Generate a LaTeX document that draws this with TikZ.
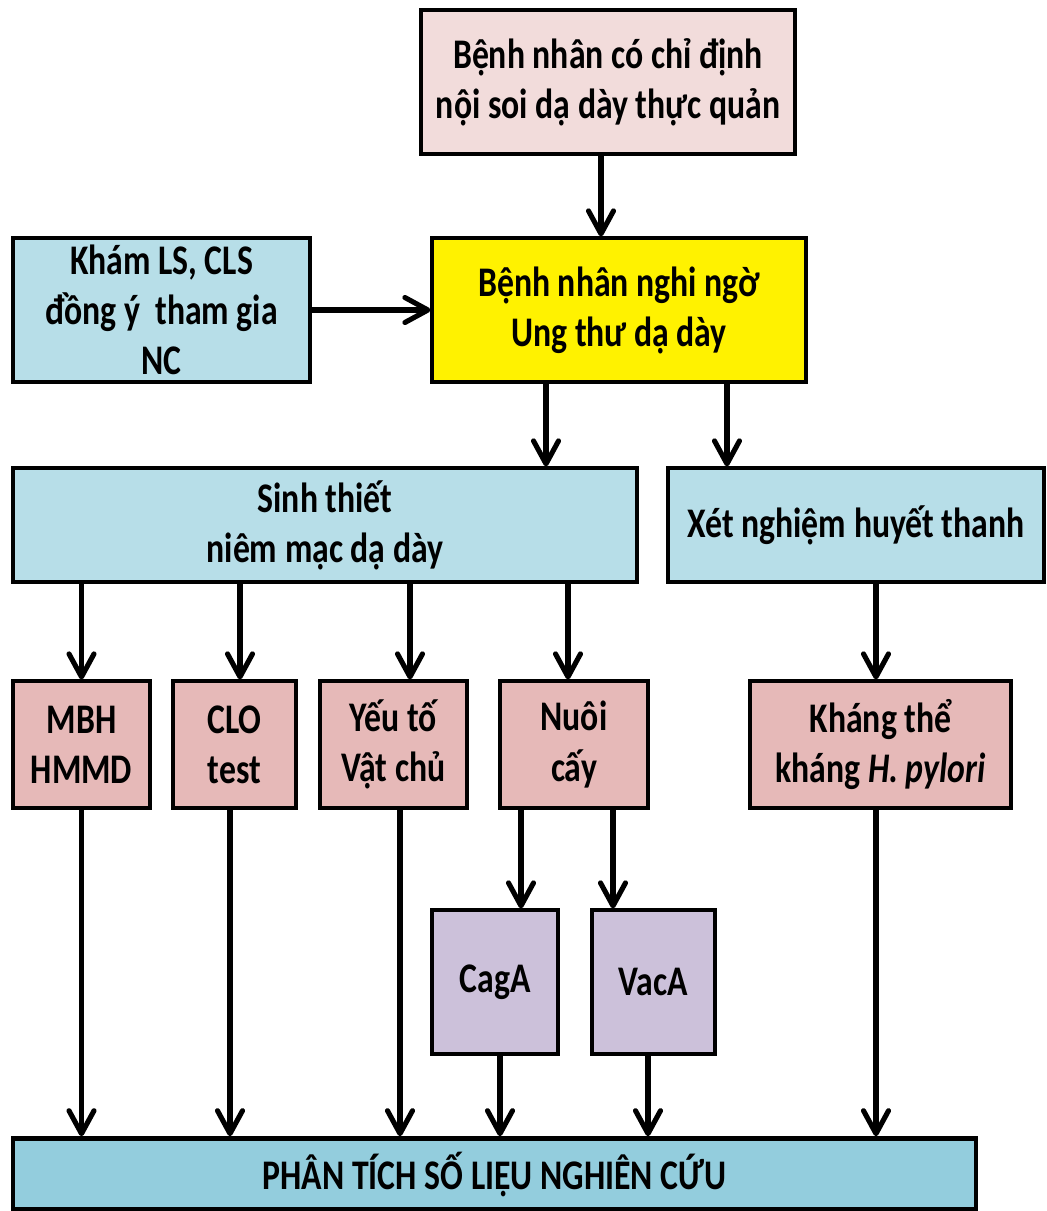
\documentclass[tikz,border=0pt]{standalone}
\usepackage{fontspec}
\setmainfont{Carlito}[FakeStretch=0.8]
\usetikzlibrary{arrows.meta}
\definecolor{hongnhat}{HTML}{F2DCDB}
\definecolor{xanhnhat}{HTML}{B7DEE8}
\definecolor{hong}{HTML}{E6B9B8}
\definecolor{tim}{HTML}{CCC1DA}
\definecolor{xanh}{HTML}{93CDDD}
\tikzset{
	hop/.style={draw, line width=1.8pt, align=center, inner sep=0pt,
		font=\fontsize{24}{28.5}\selectfont\bfseries},
	muiten/.style={line width=2.9pt, -{Straight Barb[width=0.5cm,length=0.46cm,round]}}
}
\begin{document}
\begin{tikzpicture}[x=0.02cm,y=-0.02cm]
	\useasboundingbox (0,0) rectangle (1046,1211);

	\node[hop, fill=hongnhat, minimum width=7.48cm, minimum height=2.88cm] (chidinh) at (608,82) {Bệnh nhân có chỉ định\\nội soi dạ dày thực quản};
	\node[hop, fill=xanhnhat, minimum width=5.94cm, minimum height=2.88cm] (kham) at (161.5,310) {Khám LS, CLS\\đồng ý~~tham gia\\NC};
	\node[hop, fill=yellow, minimum width=7.48cm, minimum height=2.88cm] (nghingo) at (619,310) {Bệnh nhân nghi ngờ\\Ung thư dạ dày};

	\node[hop, fill=xanhnhat, minimum width=12.48cm, minimum height=2.28cm] (sinhthiet) at (325,525) {Sinh thiết\\niêm mạc dạ dày};
	\node[hop, fill=xanhnhat, minimum width=7.52cm, minimum height=2.28cm] (xetnghiem) at (856,525) {Xét nghiệm huyết thanh};

	\node[hop, fill=hong, minimum width=2.74cm, minimum height=2.54cm] (mbh) at (81.5,744.5) {MBH\\HMMD};
	\node[hop, fill=hong, minimum width=2.46cm, minimum height=2.54cm] (clo) at (234.5,744.5) {CLO\\test};
	\node[hop, fill=hong, minimum width=2.94cm, minimum height=2.54cm] (yeuto) at (393.5,744.5) {Yếu tố\\Vật chủ};
	\node[hop, fill=hong, minimum width=2.96cm, minimum height=2.54cm] (nuoicay) at (574,744.5) {Nuôi\\cấy};
	\node[hop, fill=hong, minimum width=5.22cm, minimum height=2.54cm] (khangthe) at (880.5,744.5) {Kháng thể\\kháng \textit{H. pylori}};

	\node[hop, fill=tim, minimum width=2.52cm, minimum height=2.88cm] (caga) at (495,982) {CagA};
	\node[hop, fill=tim, minimum width=2.46cm, minimum height=2.88cm] (vaca) at (653.5,982) {VacA};

	\node[hop, fill=xanh, line width=2.6pt, minimum width=19.26cm, minimum height=1.42cm] (phantich) at (494.5,1174) {PHÂN TÍCH SỐ LIỆU NGHIÊN CỨU};

	% luong chinh
	\draw[muiten] ([xshift=-0.14cm]chidinh.south) -- ([xshift=-0.14cm]chidinh.south |- nghingo.north);
	\draw[muiten] (kham.east) -- (nghingo.west);
	\draw[muiten] ([xshift=-1.46cm]nghingo.south) -- ([xshift=-1.46cm]nghingo.south |- sinhthiet.north);
	\draw[muiten] ([xshift=2.16cm]nghingo.south) -- ([xshift=2.16cm]nghingo.south |- xetnghiem.north);

	% sinh thiet
	\draw[muiten] (sinhthiet.south -| mbh) -- (mbh.north);
	\draw[muiten] ([xshift=0.11cm]sinhthiet.south -| clo) -- ([xshift=0.11cm]clo.north);
	\draw[muiten] ([xshift=0.33cm]sinhthiet.south -| yeuto) -- ([xshift=0.33cm]yeuto.north);
	\draw[muiten] ([xshift=-0.12cm]sinhthiet.south -| nuoicay) -- ([xshift=-0.12cm]nuoicay.north);
	\draw[muiten] ([xshift=0.4cm]xetnghiem.south) -- ([xshift=0.4cm]xetnghiem.south |- khangthe.north);

	% nuoi cay
	\draw[muiten] ([xshift=-1.06cm]nuoicay.south) -- ([xshift=-1.06cm]nuoicay.south |- caga.north);
	\draw[muiten] ([xshift=0.78cm]nuoicay.south) -- ([xshift=0.78cm]nuoicay.south |- vaca.north);

	% ve phan tich
	\draw[muiten] (mbh.south) -- (mbh.south |- phantich.north);
	\draw[muiten] ([xshift=-0.09cm]clo.south) -- ([xshift=-0.09cm]clo.south |- phantich.north);
	\draw[muiten] ([xshift=0.13cm]yeuto.south) -- ([xshift=0.13cm]yeuto.south |- phantich.north);
	\draw[muiten] ([xshift=0.1cm]caga.south) -- ([xshift=0.1cm]caga.south |- phantich.north);
	\draw[muiten] ([xshift=-0.11cm]vaca.south) -- ([xshift=-0.11cm]vaca.south |- phantich.north);
	\draw[muiten] ([xshift=-0.09cm]khangthe.south) -- ([xshift=-0.09cm]khangthe.south |- phantich.north);
\end{tikzpicture}
\end{document}
